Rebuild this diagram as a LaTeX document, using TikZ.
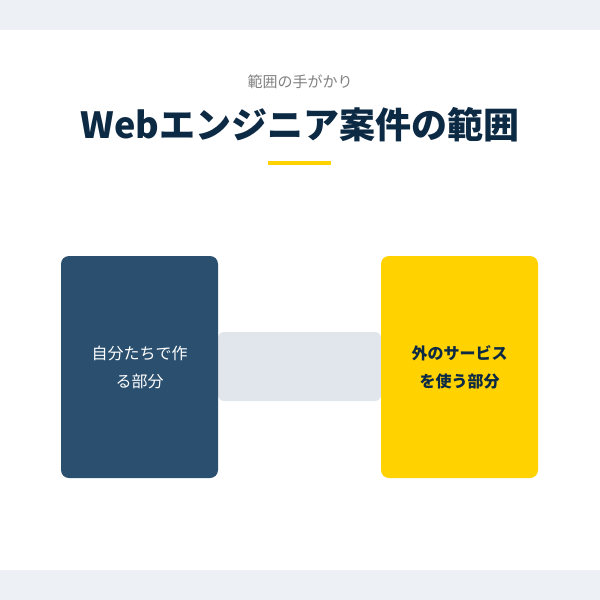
\documentclass[tikz,border=0pt]{standalone}
\usepackage{fontspec}
\setmainfont{Noto Sans CJK JP}
\usetikzlibrary{positioning}
\definecolor{navy}{HTML}{0D2A45}
\definecolor{boxblue}{HTML}{2B506F}
\definecolor{gold}{HTML}{FFD200}
\definecolor{bar}{HTML}{E1E6ED}
\definecolor{band}{HTML}{EDF0F4}
\begin{document}
\begin{tikzpicture}
[x=1pt,y=-1pt,
    part/.style={rounded corners=8pt,minimum width=157pt,minimum height=222pt,inner sep=0pt,align=center,font=\fontsize{16}{28}\selectfont},
    link/.style={fill=bar,rounded corners=6pt,minimum width=163pt,minimum height=69pt,inner sep=0pt}]
%%%%% background
\useasboundingbox (0,0) rectangle (600,600);
\fill[band] (0,0) rectangle (600,30);
\fill[band] (0,570) rectangle (600,600);
%%%%% heading
\node (sub) at (300,82) {\color{gray}\fontsize{15}{18}\selectfont 範囲の手がかり};
\node (title) at (300,125) {\color{navy}\bfseries\fontsize{36}{40}\selectfont Webエンジニア案件の範囲};
\draw[gold,line width=4pt] (268,163) -- (331,163);
%%%%% parts
\node (link) [link] at (299.5,366.5) {};
\node (own) [part,fill=boxblue,text=white] at (139.5,367) {自分たちで作\\る部分};
\node (ext) [part,fill=gold,text=navy,font=\bfseries\fontsize{16}{28}\selectfont] at (459.5,367) {外のサービス\\を使う部分};
\end{tikzpicture}
\end{document}
